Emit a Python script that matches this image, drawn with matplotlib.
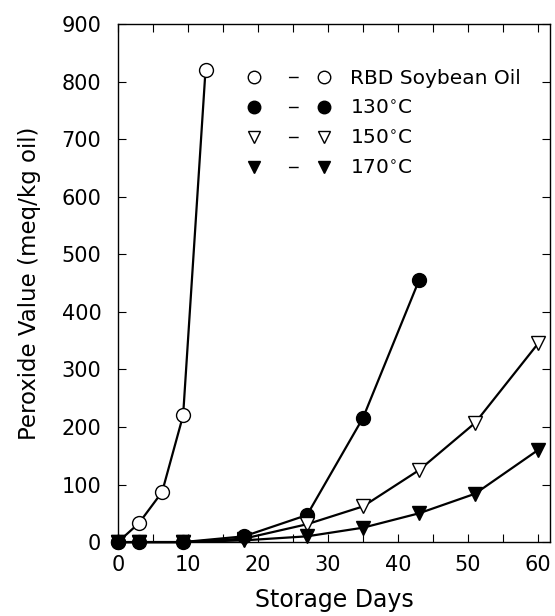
import matplotlib
matplotlib.use("Agg")
import matplotlib.pyplot as plt
from matplotlib.lines import Line2D
from matplotlib.ticker import MultipleLocator

# storage days and peroxide values (meq/kg oil)
rbd_days = [0, 3, 6.3, 9.3, 12.5]
rbd_pv = [0, 33, 87, 220, 820]

days_130 = [0, 3, 9.3, 18, 27, 35, 43]
pv_130 = [0, 0, 0, 10, 47, 216, 455]

days_150 = [0, 3, 9.3, 18, 27, 35, 43, 51, 60]
pv_150 = [0, 0, 0, 6, 31, 62, 125, 207, 345]

days_170 = [0, 3, 9.3, 18, 27, 35, 43, 51, 60]
pv_170 = [0, 0, 0, 3, 10, 25, 50, 84, 160]

labels = ["RBD Soybean Oil", "130$^{\\circ}$C", "150$^{\\circ}$C", "170$^{\\circ}$C"]

plt.rcParams["font.family"] = "DejaVu Sans"
fig = plt.figure(figsize=(5.55, 6.16), dpi=100)
ax = fig.add_axes([0.2126, 0.120, 0.7784, 0.841])

common = dict(color="black", lw=1.6, markersize=10, clip_on=False, zorder=3)
ax.plot(rbd_days, rbd_pv, marker="o", mfc="white", mec="black", mew=1.0, **common)
ax.plot(days_130, pv_130, marker="o", mfc="black", mec="black", **common)
ax.plot(days_150, pv_150, marker="v", mfc="white", mec="black", mew=1.0, **common)
ax.plot(days_170, pv_170, marker="v", mfc="black", mec="black", **common)

ax.set_xlim(0, 61.7)
ax.set_ylim(0, 900)
ax.xaxis.set_major_locator(MultipleLocator(10))
ax.xaxis.set_minor_locator(MultipleLocator(5))
ax.yaxis.set_major_locator(MultipleLocator(100))
ax.tick_params(which="both", direction="in", top=True, right=True,
               labelsize=15, length=6, width=0.8)
ax.tick_params(axis="y", pad=12)
ax.tick_params(axis="x", pad=9)
for s in ax.spines.values():
    s.set_linewidth(1.0)

ax.set_xlabel("Storage Days", fontsize=17, labelpad=10)
ax.set_ylabel("Peroxide Value (meq/kg oil)", fontsize=16.5, labelpad=15)

# legend: marker - short dash - marker
dash = (31.8, (7, 49.6))
handles = [
    Line2D([], [], color="black", lw=1, ls=dash, marker="o", mfc="white", mec="black", markersize=9),
    Line2D([], [], color="black", lw=1, ls=dash, marker="o", mfc="black", mec="black", markersize=9),
    Line2D([], [], color="black", lw=1, ls=dash, marker="v", mfc="white", mec="black", markersize=9),
    Line2D([], [], color="black", lw=1, ls=dash, marker="v", mfc="black", mec="black", markersize=9),
]
ax.legend(handles, labels, loc="upper left", bbox_to_anchor=(0.259, 0.948),
          frameon=False, numpoints=2, handlelength=4.05, handletextpad=1.0,
          labelspacing=0.55, fontsize=14.5)

fig.savefig("out.png", dpi=100)
